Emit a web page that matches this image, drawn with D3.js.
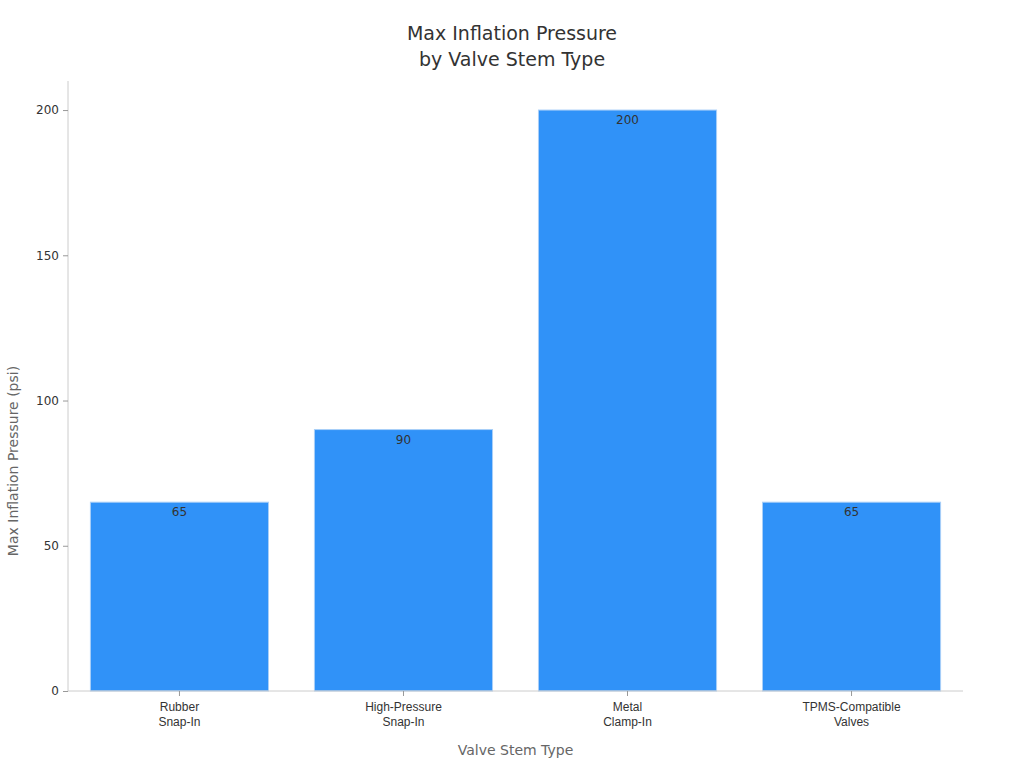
<!DOCTYPE html>
<html>
<head>
<meta charset="utf-8">
<script src="https://cdn.jsdelivr.net/npm/d3@7"></script>
<style>
  body { margin: 0; background: #fff; font-family: "DejaVu Sans", sans-serif; }
</style>
</head>
<body>
<div id="root"></div>
<script>
const categories = [["Rubber", "Snap-In"], ["High-Pressure", "Snap-In"], ["Metal", "Clamp-In"], ["TPMS-Compatible", "Valves"]];
const values = [65, 90, 200, 65];
const yTicks = [0, 50, 100, 150, 200];

const width = 1024;
const height = 768;
const margin = { top: 81, right: 61, bottom: 77, left: 68 };

const svg = d3.select("#root").append("svg")
  .attr("width", width).attr("height", height);

const x = d3.scaleBand()
  .domain(categories.map((d, i) => i))
  .range([margin.left, width - margin.right])
  .paddingInner(0.205).paddingOuter(0.1);

const y = d3.scaleLinear()
  .domain([0, 210])
  .range([height - margin.bottom, margin.top]);

// title
svg.append("text")
  .attr("x", 512).attr("y", 40)
  .attr("text-anchor", "middle")
  .attr("font-size", 19).attr("fill", "#333")
  .selectAll("tspan")
  .data(["Max Inflation Pressure", "by Valve Stem Type"])
  .join("tspan")
  .attr("x", 512).attr("dy", (d, i) => i ? 26 : 0)
  .text(d => d);

// bars
svg.append("g").selectAll("rect")
  .data(values)
  .join("rect")
  .attr("x", (d, i) => x(i))
  .attr("y", d => y(d))
  .attr("width", x.bandwidth())
  .attr("height", d => y(0) - y(d))
  .attr("fill", "#3092f8")
  .attr("stroke", "#a9cff8")
  .attr("stroke-width", 1);

svg.append("g").selectAll("text")
  .data(values)
  .join("text")
  .attr("x", (d, i) => x(i) + x.bandwidth() / 2)
  .attr("y", d => y(d) + 14)
  .attr("text-anchor", "middle")
  .attr("font-size", 12).attr("fill", "#333")
  .text(d => d);

// y axis
const yAxis = svg.append("g")
  .attr("transform", `translate(${margin.left},0)`)
  .call(d3.axisLeft(y).tickValues(yTicks).tickSize(5).tickPadding(4));
yAxis.select(".domain").attr("stroke", "#ccc").attr("d", `M0,${y(0)}V${margin.top}`);
yAxis.selectAll(".tick line").attr("stroke", "#999");
yAxis.selectAll(".tick text").attr("font-size", 12).attr("fill", "#333").attr("font-family", "DejaVu Sans");

// x axis
const xAxis = svg.append("g")
  .attr("transform", `translate(0,${y(0)})`)
  .call(d3.axisBottom(x).tickSize(5).tickFormat(""));
xAxis.select(".domain").attr("stroke", "#ccc").attr("d", `M${margin.left},0H${width - margin.right}`);
xAxis.selectAll(".tick line").attr("stroke", "#999");
xAxis.selectAll(".tick").append("text")
  .attr("text-anchor", "middle").attr("font-size", 12).attr("fill", "#333")
  .attr("y", 20)
  .selectAll("tspan")
  .data(i => categories[i])
  .join("tspan")
  .attr("x", 0).attr("dy", (d, i) => i ? 15 : 0)
  .text(d => d);

// axis titles
svg.append("text")
  .attr("x", (margin.left + width - margin.right) / 2).attr("y", 755)
  .attr("text-anchor", "middle").attr("font-size", 14).attr("fill", "#666")
  .text("Valve Stem Type");
svg.append("text")
  .attr("transform", `translate(18,${(margin.top + y(0)) / 2 + 75}) rotate(-90)`)
  .attr("text-anchor", "middle").attr("font-size", 14).attr("fill", "#666")
  .text("Max Inflation Pressure (psi)");
</script>
</body>
</html>
